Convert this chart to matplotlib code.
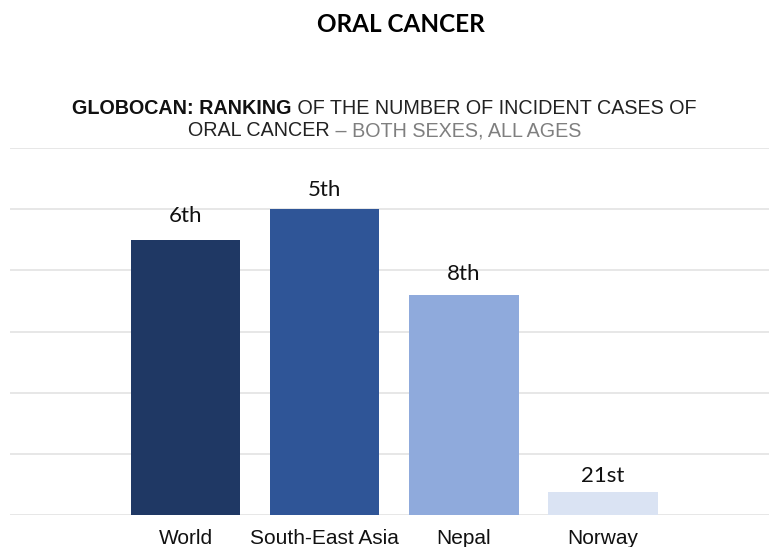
import numpy as np
import matplotlib
matplotlib.use("Agg")
import matplotlib.pyplot as plt  # noqa: E402
from matplotlib.offsetbox import TextArea, HPacker, AnnotationBbox  # noqa: E402

regions = ["World", "South-East Asia", "Nepal", "Norway"]
rank_labels = ["6th", "5th", "8th", "21st"]
bar_heights = [4.5, 5.0, 3.6, 0.38]
bar_colors = ["#1F3864", "#2F5597", "#8FAADC", "#DAE3F3"]
grid_levels = [0, 1, 2, 3, 4, 5, 6]

SANS = ["Liberation Sans", "DejaVu Sans"]
ROUND = ["Lato", "DejaVu Sans"]


def title_line(fig, y, parts, size=14.2):
    # several differently styled pieces on one centred line
    boxes = [TextArea(txt, textprops=dict(fontsize=size, family=SANS,
                                          color=col, fontweight=wt))
             for txt, col, wt in parts]
    pack = HPacker(children=boxes, pad=0, sep=0, align="baseline")
    ab = AnnotationBbox(pack, (0.5, y), xycoords="figure fraction",
                        box_alignment=(0.5, 0.5), frameon=False, pad=0)
    fig.add_artist(ab)


def main():
    fig = plt.figure(figsize=(7.69, 5.47), dpi=100)
    ax = fig.add_axes([10 / 769, 1 - 515 / 547, 1 - 10 / 769, (515 - 148) / 547])

    x = np.arange(len(regions))
    bars = ax.bar(x, bar_heights, width=0.79, color=bar_colors, zorder=2)
    # labels were nudged by hand, so the gap above each bar differs a little
    gaps = [13, 9.5, 11, 7.2]
    for b, lab, g in zip(bars, rank_labels, gaps):
        ax.annotate(lab, (b.get_x() + b.get_width() / 2, b.get_height()),
                    xytext=(0, g), textcoords="offset points",
                    ha="center", va="baseline", fontsize=16,
                    family=ROUND, color="#111111", zorder=3)

    ax.set_xlim(-1.263, 4.197)
    ax.set_ylim(0, 6)
    ax.set_yticks(grid_levels)
    ax.set_yticklabels([])
    ax.tick_params(axis="y", length=0)
    ax.grid(axis="y", color="#E3E3E3", linewidth=1.2, zorder=0)
    ax.set_xticks(x)
    ax.set_xticklabels(regions, fontsize=15, family=SANS, color="#111111")
    ax.tick_params(axis="x", length=0, pad=10)
    for s in ax.spines.values():
        s.set_visible(False)

    fig.text(401 / 769, 1 - 24 / 547, "ORAL CANCER", ha="center", va="center",
             fontsize=17.5, fontweight="bold", family=ROUND, color="#000000")
    title_line(fig, 1 - 108 / 547,
               [("GLOBOCAN: RANKING", "#111111", "bold"),
                (" OF THE NUMBER OF INCIDENT CASES OF", "#222222", "normal")])
    title_line(fig, 1 - 131 / 547,
               [("ORAL CANCER", "#222222", "normal"),
                (" \u2013 BOTH SEXES, ALL AGES", "#7F7F7F", "normal")])

    fig.savefig("out.png", dpi=100)


if __name__ == "__main__":
    main()
